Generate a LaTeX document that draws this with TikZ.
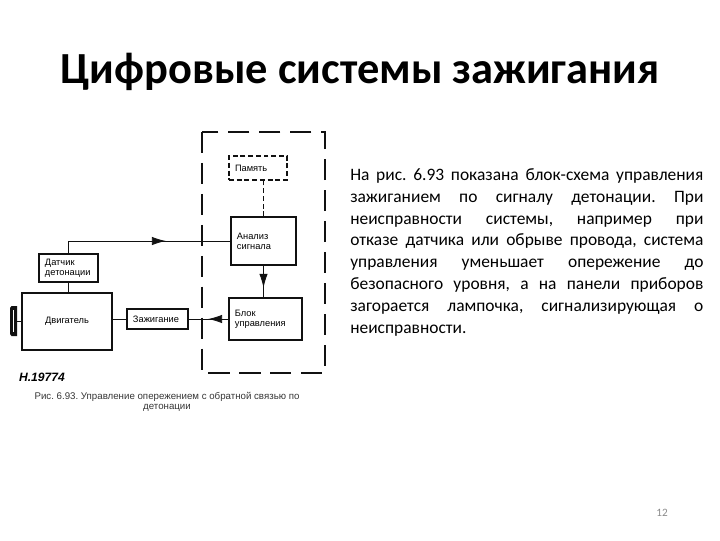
\documentclass[tikz,border=0pt]{standalone}
\usepackage{fontspec}
\setmainfont{Carlito}
\newfontfamily\schemefont{Liberation Sans}
\usepackage{xcolor}
\usepackage{tikz}
\usetikzlibrary{arrows.meta,positioning,calc,decorations.markings}
\definecolor{ink}{HTML}{111111}
\definecolor{pagegray}{HTML}{8A8A8A}
\frenchspacing

\begin{document}
\begin{tikzpicture}[>=Stealth, x=0.025cm, y=-0.025cm,
  blk/.style={draw=ink, line width=0.9pt, font=\schemefont\fontsize{6.6}{8}\selectfont,
    align=left, inner xsep=0.15cm, inner ysep=1pt},
  wire/.style={draw=ink, line width=0.6pt},
  midtip/.style={postaction={decorate}, decoration={markings,
    mark=at position #1 with {\arrow{Latex[length=10pt,width=6pt]}}}}]

\useasboundingbox (0,0) rectangle (720,540);

% ---------- title and text
\node[font=\bfseries\fontsize{31.6}{36}\selectfont] (title) at (360,72) {Цифровые системы зажигания};
\node[anchor=north west, inner sep=0pt, text width=8.825cm, align=justify,
      font=\fontsize{12.4}{15.6}\selectfont] (body) at (350,168)
  {На рис. 6.93 показана блок-схема управления зажиганием по сигналу детонации. При
   неисправности системы, например при отказе датчика или обрыве провода, система
   управления уменьшает опережение до безопасного уровня, а на панели приборов
   загорается лампочка, сигнализирующая о неисправности.};
\node[font=\fontsize{8}{9}\selectfont, text=pagegray] (pageno) at (662,513) {12};

% ---------- control unit frame
\draw[ink, line width=1pt, dash pattern=on 15pt off 7pt] (202,132) rectangle (325,373);

% ---------- blocks
\node[blk, dash pattern=on 3.5pt off 2pt, text width=1.15cm, minimum height=0.6cm] (mem) at (258,168) {Память};
\node[blk, text width=1.325cm, minimum height=1.2cm] (anal) at (263.5,241) {Анализ\\[-1pt]сигнала};
\node[blk, text width=1.525cm, minimum height=1.05cm] (ctrl) at (265.5,319) {Блок\\[-1pt]управления};
\node[blk, text width=1.225cm, minimum height=0.5cm] (ign) at (157.5,319) {Зажигание};
\node[blk, text width=1.95cm, minimum height=1.425cm, align=center] (eng) at (67,321.5) {Двигатель};
\node[blk, text width=1.175cm, minimum height=0.7cm] (knock) at (68.5,268) {Датчик\\[-1pt]детонации};

% ---------- connectors
\draw[wire, dash pattern=on 3.5pt off 2pt] (anal.north) -- (anal.north |- mem.south);
\draw[wire, midtip=0.63] (knock.north) |- (anal.west);
\draw[wire, midtip=0.7] (anal.south) -- (anal.south |- ctrl.north);
\draw[wire, midtip=0.51] (ctrl.west) -- (ctrl.west -| ign.east);
\draw[wire] (ign.west) -- (ign.west -| eng.east);
\draw[wire] (knock.south) -- (knock.south |- eng.north);

% ---------- pulley
\coordinate (shaft) at (17,321.5);
\draw[wire] (eng.west) -- (shaft);
\fill[ink] (10,308) -- (11.5,306) -- (17,306) -- (17,336) -- (11.5,336) -- (10,334) -- cycle;
\draw[white, line width=0.5pt] (13.5,310) -- (13.5,332);

% ---------- figure label and caption
\node[font=\schemefont\bfseries\itshape\fontsize{8.6}{10}\selectfont] (fignum) at (42,377) {Н.19774};
\node[font=\schemefont\fontsize{6.9}{7.4}\selectfont, align=center, text=ink!85] (caption) at (167,402)
  {Рис. 6.93. Управление опережением с обратной связью по\\детонации};

\end{tikzpicture}
\end{document}
